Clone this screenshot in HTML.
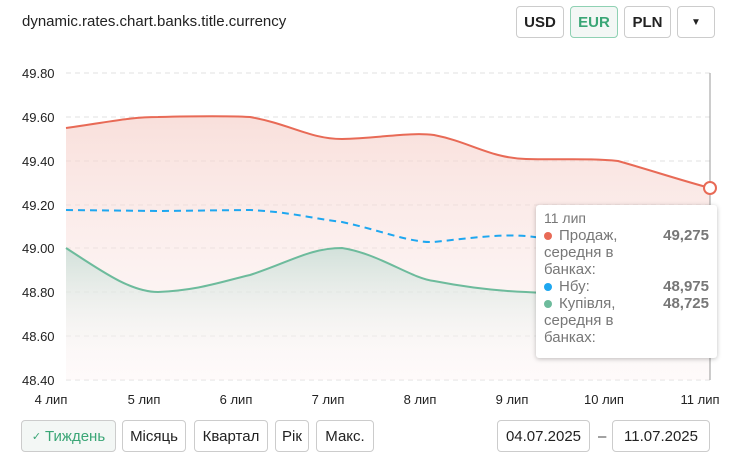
<!DOCTYPE html>
<html><head><meta charset="utf-8"><style>
body{margin:0;width:740px;height:459px;background:#fff;font-family:"Liberation Sans","Noto Sans CJK SC",sans-serif;position:relative;overflow:hidden;color:#222}
.b{position:absolute;box-sizing:border-box;border:1px solid #ccc;border-radius:4px;background:#fff;font-size:15px;display:flex;align-items:center;justify-content:center;color:#222}
.t{position:absolute;left:22px;top:13px;font-size:15px}
.tip{position:absolute;left:536px;top:205px;width:181px;height:153px;background:#fff;box-shadow:0 1px 5px rgba(0,0,0,.25);border-radius:3px;font-size:15px;color:#777;box-sizing:border-box;padding:5px 8px 0 8px;line-height:17px}
.r{display:flex;justify-content:space-between}
.r b{color:#777}
.d{display:inline-block;width:8px;height:8px;border-radius:50%;margin-right:7px}
</style></head><body>
<div class="t">dynamic.rates.chart.banks.title.currency</div>
<div class="b" style="left:516px;top:6px;width:48px;height:32px;font-weight:bold">USD</div>
<div class="b" style="left:570px;top:6px;width:48px;height:32px;font-weight:bold;color:#3aa676;border-color:#8fd1b3;background:#f3f7f5">EUR</div>
<div class="b" style="left:624px;top:6px;width:47px;height:32px;font-weight:bold">PLN</div>
<div class="b" style="left:677px;top:6px;width:38px;height:32px;font-size:10px">▼</div>
<svg width="740" height="459" style="position:absolute;left:0;top:0">
<defs>
<linearGradient id="gr" x1="0" y1="0" x2="0" y2="1"><stop offset="0" stop-color="#f6d2cc" stop-opacity=".7"/><stop offset="1" stop-color="#fbeeee" stop-opacity=".3"/></linearGradient>
<linearGradient id="gg" x1="0" y1="0" x2="0" y2="1"><stop offset="0" stop-color="#c7ddd5" stop-opacity=".8"/><stop offset="1" stop-color="#fff" stop-opacity="0"/></linearGradient>
</defs>
<g stroke="#e2e2e2" stroke-dasharray="5,4">
<line x1="66" x2="710" y1="73" y2="73"/><line x1="66" x2="710" y1="117" y2="117"/><line x1="66" x2="710" y1="161" y2="161"/><line x1="66" x2="710" y1="205" y2="205"/><line x1="66" x2="710" y1="248" y2="248"/><line x1="66" x2="710" y1="292" y2="292"/><line x1="66" x2="710" y1="336" y2="336"/><line x1="66" x2="710" y1="380" y2="380"/>
</g>
<g font-size="13" fill="#222">
<text x="22" y="78">49.80</text><text x="22" y="122">49.60</text><text x="22" y="166">49.40</text><text x="22" y="210">49.20</text><text x="22" y="253">49.00</text><text x="22" y="297">48.80</text><text x="22" y="341">48.60</text><text x="22" y="385">48.40</text>
</g>
<path d="M66,128 C110,122 130,117 158,117 C200,116 230,116 250,117 C290,124 310,139 342,139 C380,138 410,132 434,135 C470,142 490,158 526,159 C560,160 590,158 618,161 C650,170 680,180 710,188 L710,380 L66,380Z" fill="url(#gr)"/>
<path d="M66,248 C100,270 130,292 158,292 C200,290 220,282 250,275 C290,262 310,248 342,248 C380,254 410,278 434,281 C470,288 500,291 526,292 C560,294 590,294 618,296 C650,298 680,300 710,303 L710,380 L66,380Z" fill="url(#gg)"/>
<path d="M66,128 C110,122 130,117 158,117 C200,116 230,116 250,117 C290,124 310,139 342,139 C380,138 410,132 434,135 C470,142 490,158 526,159 C560,160 590,158 618,161 C650,170 680,180 710,188" fill="none" stroke="#e86a56" stroke-width="2"/>
<path d="M66,210 L158,211 L250,210 C290,212 310,218 342,222 C380,230 410,243 434,242 C470,238 500,234 526,236 C560,240 590,244 618,248 C650,250 680,252 710,253" fill="none" stroke="#1ea7f0" stroke-width="2" stroke-dasharray="7,5"/>
<path d="M66,248 C100,270 130,292 158,292 C200,290 220,282 250,275 C290,262 310,248 342,248 C380,254 410,278 434,281 C470,288 500,291 526,292 C560,294 590,294 618,296 C650,298 680,300 710,303" fill="none" stroke="#6dbb9c" stroke-width="2"/>
<line x1="710" y1="73" x2="710" y2="380" stroke="#999"/>
<circle cx="710" cy="188" r="6" fill="#fff" stroke="#e86a56" stroke-width="2"/>
<g font-size="13" fill="#222" text-anchor="middle">
<text x="51" y="404">4 лип</text><text x="144" y="404">5 лип</text><text x="236" y="404">6 лип</text><text x="328" y="404">7 лип</text><text x="420" y="404">8 лип</text><text x="512" y="404">9 лип</text><text x="604" y="404">10 лип</text><text x="700" y="404">11 лип</text>
</g>
<text x="598" y="441" font-size="15" fill="#444">–</text>
</svg>
<div class="tip">
<div style="font-size:14px">11 лип</div>
<div class="r"><span><span class="d" style="background:#e86a56"></span>Продаж,<br>середня в<br>банках:</span><b>49,275</b></div>
<div class="r"><span><span class="d" style="background:#1ea7f0"></span>Нбу:</span><b>48,975</b></div>
<div class="r"><span><span class="d" style="background:#6dbb9c"></span>Купівля,<br>середня в<br>банках:</span><b>48,725</b></div>
</div>
<div class="b" style="left:21px;top:420px;width:95px;height:32px;color:#3aa676;background:#f3f7f5;font-family:'DejaVu Sans',sans-serif;font-size:14px"><span style="font-size:11px;margin-right:4px">✓</span><span style="font-family:'Liberation Sans',sans-serif;font-size:15px">Тиждень</span></div>
<div class="b" style="left:122px;top:420px;width:64px;height:32px">Місяць</div>
<div class="b" style="left:194px;top:420px;width:74px;height:32px">Квартал</div>
<div class="b" style="left:275px;top:420px;width:34px;height:32px">Рік</div>
<div class="b" style="left:316px;top:420px;width:58px;height:32px">Макс.</div>
<div class="b" style="left:497px;top:420px;width:93px;height:32px">04.07.2025</div>
<div class="b" style="left:612px;top:420px;width:98px;height:32px">11.07.2025</div>
</body></html>
